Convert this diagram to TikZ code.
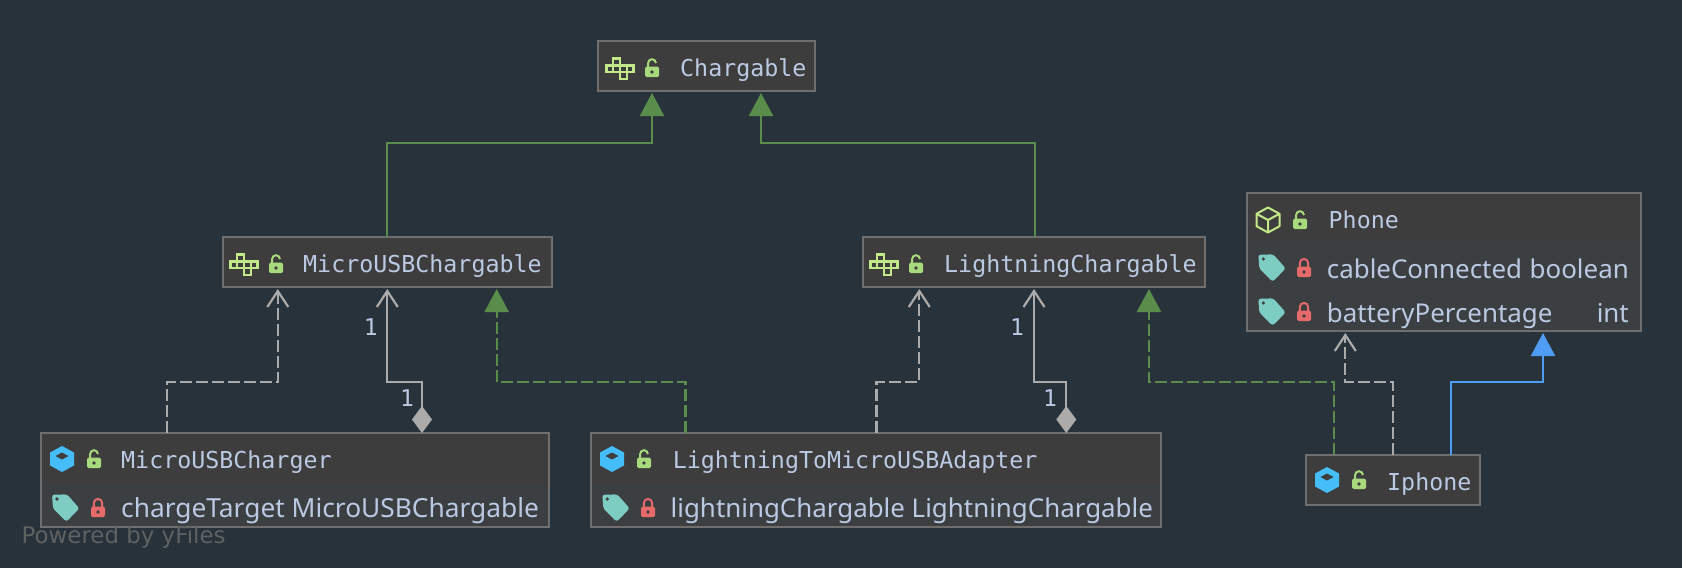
\documentclass[tikz,border=0pt]{standalone}
\usepackage{fontspec}
\setmainfont{Noto Sans}
\newfontfamily\monofont{DejaVu Sans Mono}
\newfontfamily\markfont{DejaVu Sans}
\usetikzlibrary{arrows.meta}
\definecolor{bgcol}{HTML}{28323A}
\definecolor{boxcol}{HTML}{3D3D3D}
\definecolor{rowcol}{HTML}{3C3F41}
\definecolor{edgecol}{HTML}{6F6F6F}
\definecolor{txtcol}{HTML}{BCC9E2}
\definecolor{linecol}{HTML}{ABABAB}
\definecolor{greencol}{HTML}{5A8D4C}
\definecolor{bluecol}{HTML}{4F9CF5}
\definecolor{facecol}{HTML}{C3E888}
\definecolor{lockcol}{HTML}{A8D97C}
\definecolor{redcol}{HTML}{E66A6A}
\definecolor{tagcol}{HTML}{7DCDC3}
\definecolor{cubecol}{HTML}{45BDF8}
\definecolor{markcol}{HTML}{5F6262}
\tikzset{
  faceicon/.pic={
    \foreach \cx/\cy in {-6.8/-9.5,-13.6/-2.7,-6.8/-2.7,0/-2.7,6.8/-2.7,0/4.1}
      \draw[facecol,fill=boxcol,line width=2.4pt] (\cx,\cy) rectangle ++(6.8,6.8);
  },
  openlock/.pic={
    \draw[lockcol,line width=2pt] (-3.9,-1) -- (-3.9,-4.9) arc[start angle=180,end angle=360,radius=3.9];
    \fill[lockcol,rounded corners=1.5pt] (-7,-1.3) rectangle (7,9);
    \fill[boxcol] (0,4) circle[radius=1.8];
  },
  shutlock/.pic={
    \draw[redcol,line width=2pt] (-4.2,-1) -- (-4.2,-4.9) arc[start angle=180,end angle=360,radius=4.2] -- (4.2,-1);
    \fill[redcol,rounded corners=1.5pt] (-7,-1.3) rectangle (7,9);
    \fill[boxcol] (0,4) circle[radius=1.8];
  },
  tagicon/.pic={
    \fill[tagcol,rounded corners=2.5pt] (-13.7,-13) -- (1.3,-13.3) -- (13.7,0.7) -- (0.7,14) -- (-12.7,0.7) -- cycle;
    \fill[boxcol] (-8.7,-8.7) circle[radius=1.8];
  },
  linecube/.pic={
    \draw[facecol,line width=2pt,line join=round] (0,-12.5) -- (11.5,-6.2) -- (11.5,6.2) -- (0,12.5) -- (-11.5,6.2) -- (-11.5,-6.2) -- cycle
      (-11.5,-6.2) -- (0,0) -- (11.5,-6.2) (0,0) -- (0,12.5);
  },
  solidcube/.pic={
    \fill[cubecol,line join=round] (0,-13) -- (12,-6.5) -- (12,6.5) -- (0,13) -- (-12,6.5) -- (-12,-6.5) -- cycle;
    \fill[boxcol] (0,-6.5) -- (6.5,-3) -- (0,0.5) -- (-6.5,-3) -- cycle;
  }
}
\begin{document}
\begin{tikzpicture}[x=1pt,y=-1pt,
  classbox/.style={rectangle,draw=edgecol,fill=boxcol,line width=2pt,inner sep=0pt,outer sep=0pt},
  rowbox/.style={rectangle,fill=rowcol,inner sep=0pt,outer sep=0pt},
  mono/.style={anchor=base west,inner sep=0pt,text=txtcol,font=\monofont\fontsize{23.3}{28}\selectfont},
  field/.style={anchor=base west,inner sep=0pt,text=txtcol,font=\fontsize{25.9}{30}\selectfont},
  multi/.style={inner sep=0pt,text=txtcol,font=\monofont\fontsize{23}{28}\selectfont},
  realize/.style={draw=greencol,line width=2.2pt,dash pattern=on 12pt off 4pt,-{Triangle[length=23pt,width=24pt,fill=greencol]}},
  extend/.style={draw=greencol,line width=2.2pt,-{Triangle[length=23pt,width=24pt,fill=greencol]}},
  inherit/.style={draw=bluecol,line width=2.2pt,-{Triangle[length=23pt,width=24pt,fill=bluecol]}},
  depend/.style={draw=linecol,line width=2.2pt,dash pattern=on 12pt off 4pt,-{Straight Barb[length=16pt,width=21pt,line width=2.2pt]}},
  compose/.style={draw=linecol,line width=2.2pt,{Diamond[length=27pt,width=20pt,fill=linecol]}-{Straight Barb[length=16pt,width=21pt,line width=2.2pt]}}]
\fill[bgcol] (0,0) rectangle (1682,568);

\node[classbox,minimum width=217pt,minimum height=50pt] (chargable) at (706.5,66) {};
\node[classbox,minimum width=329pt,minimum height=50pt] (usbface) at (387,262) {};
\node[classbox,minimum width=342pt,minimum height=50pt] (lightface) at (1033.5,262) {};
\node[classbox,minimum width=394pt,minimum height=138pt] (phone) at (1444,262) {};
\node[classbox,minimum width=508pt,minimum height=94pt] (charger) at (295,480) {};
\node[classbox,minimum width=570pt,minimum height=94pt] (adapter) at (876,480) {};
\node[classbox,minimum width=174.5pt,minimum height=50pt] (iphone) at (1392.75,480) {};

\node[rowbox,minimum width=392pt,minimum height=88pt] (phonerows) at (1444,286) {};
\node[rowbox,minimum width=506pt,minimum height=43pt] (chargerrow) at (295,504.5) {};
\node[rowbox,minimum width=568pt,minimum height=43pt] (adapterrow) at (876,504.5) {};

\pic at (620,68) {faceicon};
\pic at (652,68) {openlock};
\node[mono] (chargabletxt) at (680,76) {Chargable};
\pic at (244,264) {faceicon};
\pic at (276,264) {openlock};
\node[mono] (usbfacetxt) at (303,272.3) {MicroUSBChargable};
\pic at (884,264) {faceicon};
\pic at (916,264) {openlock};
\node[mono] (lightfacetxt) at (944,272.3) {LightningChargable};

\pic at (1268,220) {linecube};
\pic at (1300,220) {openlock};
\node[mono] (phonetxt) at (1328.5,228) {Phone};
\pic at (1272,267.7) {tagicon};
\pic at (1304,268) {shutlock};
\node[field] (cabletxt) at (1326.7,278) {cableConnected};
\node[field,anchor=base east] (cabletype) at (1629,278) {boolean};
\pic at (1272,311.7) {tagicon};
\pic at (1304,312) {shutlock};
\node[field] (batterytxt) at (1326.7,322.3) {batteryPercentage};
\node[field,anchor=base east] (batterytype) at (1629,322.3) {int};

\pic at (62,459) {solidcube};
\pic at (94,459) {openlock};
\node[mono] (chargertxt) at (121,468.3) {MicroUSBCharger};
\pic at (65.7,507.7) {tagicon};
\pic at (98,508) {shutlock};
\node[field,font=\fontsize{26.3}{30}\selectfont] (targettxt) at (121,517.3) {chargeTarget MicroUSBChargable};

\pic at (612,459) {solidcube};
\pic at (644,459) {openlock};
\node[mono] (adaptertxt) at (672.6,468.3) {LightningToMicroUSBAdapter};
\pic at (616,507.7) {tagicon};
\pic at (648,508) {shutlock};
\node[field] (lighttxt) at (670.5,517.3) {lightningChargable LightningChargable};

\pic at (1327,480) {solidcube};
\pic at (1359,480) {openlock};
\node[mono] (iphonetxt) at (1387,490) {Iphone};

\draw[extend] ([xshift=164.8pt]usbface.north west) -- ++(0,-94) -| ([xshift=54pt,yshift=-2pt]chargable.south west);
\draw[extend] ([xshift=172.5pt]lightface.north west) -- ++(0,-94) -| ([xshift=163pt,yshift=-2pt]chargable.south west);

\draw[depend] ([xshift=126pt]charger.north west) -- ++(0,-51) -| ([xshift=55.3pt,yshift=-2pt]usbface.south west);
\draw[compose] ([xshift=381pt]charger.north west) -- ++(0,-51) -| ([xshift=164.8pt,yshift=-2pt]usbface.south west);
\draw[realize] ([xshift=94.5pt]adapter.north west) -- ++(0,-51) -| ([xshift=274.2pt,yshift=-2pt]usbface.south west);
\draw[depend] ([xshift=285.4pt]adapter.north west) -- ++(0,-51) -| ([xshift=56.8pt,yshift=-2pt]lightface.south west);
\draw[compose] ([xshift=475.3pt]adapter.north west) -- ++(0,-51) -| ([xshift=171.5pt,yshift=-2pt]lightface.south west);
\draw[realize] ([xshift=28.5pt]iphone.north west) -- ++(0,-73) -| ([xshift=286.5pt,yshift=-2pt]lightface.south west);
\draw[depend] ([xshift=87.5pt]iphone.north west) -- ++(0,-73) -| ([xshift=98.3pt,yshift=-2pt]phone.south west);
\draw[inherit] ([xshift=145.5pt]iphone.north west) -- ++(0,-73) -| ([xshift=296pt,yshift=-2pt]phone.south west);

\node[multi] (usbend) at (370.7,327) {1};
\node[multi] (usbstart) at (407,398.5) {1};
\node[multi] (lightend) at (1017,327) {1};
\node[multi] (lightstart) at (1050,398.5) {1};

\node[anchor=base west,inner sep=0pt,text=markcol,font=\markfont\fontsize{22.9}{27}\selectfont] (powered) at (21.5,543) {Powered by yFiles};
\end{tikzpicture}
\end{document}
